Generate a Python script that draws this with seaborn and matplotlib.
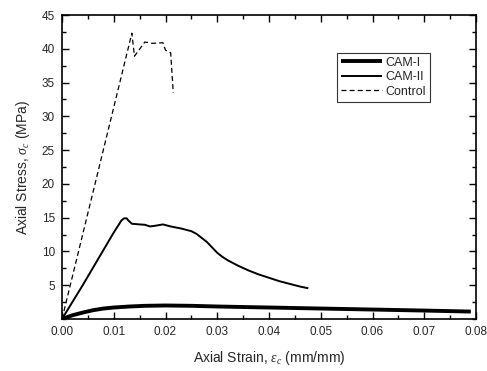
import numpy as np
import pandas as pd
import matplotlib
matplotlib.use("Agg")
import matplotlib.pyplot as plt
import seaborn as sns
from matplotlib.ticker import MultipleLocator, FixedLocator

# ---- data ----
cam1_strain = [0.0, 0.002, 0.004, 0.006, 0.008, 0.010, 0.013, 0.016, 0.020, 0.025, 0.030,
               0.040, 0.050, 0.060, 0.070, 0.079]
cam1_stress = [0.0, 0.55, 0.95, 1.3, 1.55, 1.7, 1.85, 1.95, 2.0, 1.95, 1.85,
               1.7, 1.55, 1.4, 1.25, 1.1]

cam2_strain = [0.0, 0.004, 0.008, 0.009, 0.010, 0.011, 0.0115, 0.012, 0.0125, 0.0128, 0.0135,
               0.015, 0.016, 0.017, 0.018, 0.0195, 0.021, 0.023, 0.025, 0.026, 0.028, 0.029,
               0.030, 0.031, 0.032, 0.034, 0.036, 0.038, 0.040, 0.042, 0.044, 0.046, 0.0476]
cam2_stress = [0.0, 5.0, 10.2, 11.5, 12.8, 14.0, 14.6, 14.9, 14.9, 14.6, 14.1,
               14.0, 13.95, 13.7, 13.8, 14.0, 13.7, 13.4, 13.0, 12.6, 11.4, 10.6,
               9.8, 9.2, 8.7, 7.9, 7.2, 6.6, 6.1, 5.6, 5.2, 4.8, 4.55]

ctrl_strain = [0.0, 0.0135, 0.014, 0.016, 0.0175, 0.0195, 0.020, 0.021, 0.0215]
ctrl_stress = [0.0, 42.3, 38.9, 41.0, 40.8, 40.9, 39.8, 39.4, 33.5]

series_names = ["CAM-I", "CAM-II", "Control"]
x_ticks = [0.00, 0.01, 0.02, 0.03, 0.04, 0.05, 0.06, 0.07, 0.08]
y_ticks = [5, 10, 15, 20, 25, 30, 35, 40, 45]

frames = []
for name, xs, ys in zip(series_names, [cam1_strain, cam2_strain, ctrl_strain],
                        [cam1_stress, cam2_stress, ctrl_stress]):
    frames.append(pd.DataFrame({"strain": xs, "stress": ys, "series": name}))
df = pd.concat(frames, ignore_index=True)

sns.set_style("ticks")
plt.rcParams["font.family"] = ["Liberation Sans", "DejaVu Sans"]
plt.rcParams["mathtext.fontset"] = "custom"
plt.rcParams["mathtext.it"] = "Liberation Serif:italic"
plt.rcParams["mathtext.rm"] = "Liberation Sans"

fig = plt.figure(figsize=(4.87, 3.71), dpi=100)
ax = fig.add_axes([62/487, 1 - 319/371, (476-62)/487, (319-15)/371])

sns.lineplot(data=df, x="strain", y="stress", hue="series", style="series", size="series",
             hue_order=series_names, style_order=series_names, size_order=series_names,
             palette=["black", "black", "black"],
             dashes={"CAM-I": "", "CAM-II": "", "Control": (4, 2.5)},
             sizes={"CAM-I": 2.8, "CAM-II": 1.4, "Control": 0.9},
             sort=False, estimator=None, units="series", ax=ax, legend=True)
for line in ax.lines:
    line.set_solid_joinstyle("round")
    line.set_solid_capstyle("butt")

ax.set_xlim(0, 0.08)
ax.set_ylim(0, 45)
ax.xaxis.set_major_locator(FixedLocator(x_ticks))
ax.yaxis.set_major_locator(FixedLocator(y_ticks))
ax.xaxis.set_minor_locator(MultipleLocator(0.005))
ax.yaxis.set_minor_locator(MultipleLocator(2.5))
ax.set_xticklabels([f"{v:.2f}" for v in x_ticks])
ax.set_yticklabels([f"{v:g}" for v in y_ticks])
ax.tick_params(which="both", direction="in", top=True, right=True, width=1.0, color="black",
               labelsize=8.5, pad=5)
ax.tick_params(which="major", length=5)
ax.tick_params(which="minor", length=3)
for s in ax.spines.values():
    s.set_visible(True)
    s.set_linewidth(1.2)
    s.set_color("black")

ax.set_xlabel(r"Axial Strain, $\varepsilon_c$ (mm/mm)", fontsize=10, labelpad=8)
ax.set_ylabel(r"Axial Stress, $\sigma_c$ (MPa)", fontsize=10, labelpad=7)

handles, labels = ax.get_legend_handles_labels()
leg = ax.legend(handles, labels, loc="upper left", bbox_to_anchor=((337 - 62) / 414, 1 - (53 - 15) / 304),
                frameon=True, fancybox=False, edgecolor="black", fontsize=9,
                handlelength=3.3, handletextpad=0.3, borderpad=0.3, labelspacing=0.2,
                borderaxespad=0)
leg.get_frame().set_linewidth(0.8)

fig.savefig("out.png", dpi=100, facecolor="white")
